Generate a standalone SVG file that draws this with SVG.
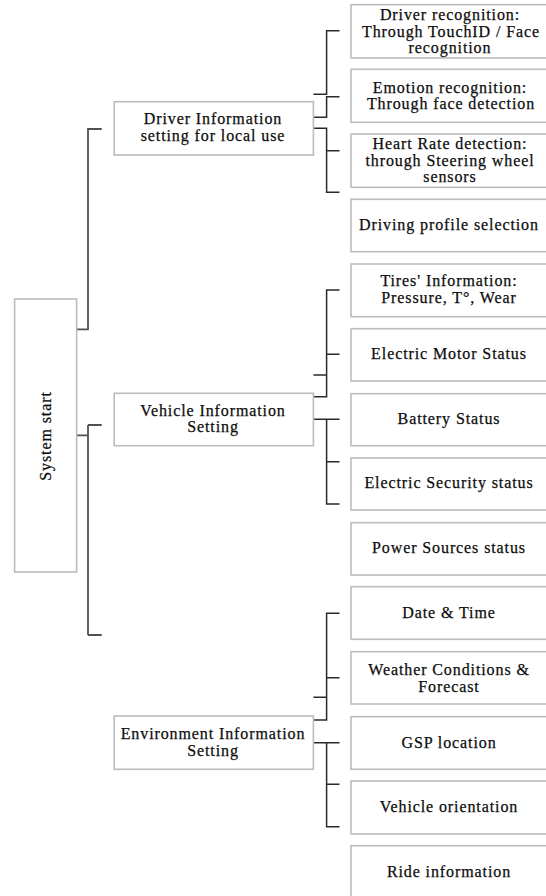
<svg xmlns="http://www.w3.org/2000/svg" width="546" height="896" viewBox="0 0 546 896">
  <style>
    .box { fill: #ffffff; stroke: #bcbcbc; stroke-width: 1.6; }
    .lbl { font-family: "Liberation Serif", "Times New Roman", serif; font-size: 16px; letter-spacing: 0.9px; fill: #0d0d0d; stroke: #0d0d0d; stroke-width: 0.25; text-anchor: middle; }
    .trunk { fill: none; stroke: #505050; stroke-width: 1.8; }
    .br { fill: none; stroke: #2a2a2a; stroke-width: 1.5; }
  </style>
  <rect width="546" height="896" fill="#ffffff"/>

  <!-- connectors -->
  <g id="connectors">
    <!-- System start to the three setting groups -->
    <path class="trunk" d="M76.6,329.3 H88 V129 H101.7"/>
    <path class="trunk" d="M76.6,435.3 H88 M88,425 V635 M88,425 H101.7 M88,635 H101.7"/>
    <!-- driver information brackets -->
    <path class="br" d="M339.5,30.7 H326.6 V94.3 H313.4"/>
    <path class="br" d="M339.5,96.7 H326.6 V117.3 H313.4"/>
    <path class="br" d="M313.4,128.3 H326.6 V192.3 H339.5 M326.6,150.7 H339.5"/>
    <!-- vehicle information brackets -->
    <path class="br" d="M339.5,290 H326.6 V396.7 H313.4 M326.6,354.3 H339.5 M313.4,375 H326.6"/>
    <path class="br" d="M313.4,419.3 H339.5 M326.6,419.3 V504 H339.5 M326.6,461.7 H339.5"/>
    <!-- environment information brackets -->
    <path class="br" d="M339.5,613.3 H326.6 V720 H313.4 M326.6,677.7 H339.5 M313.4,697.3 H326.6"/>
    <path class="br" d="M313.4,742.7 H339.5 M326.6,742.7 V826.7 H339.5 M326.6,784.3 H339.5"/>
  </g>

  <!-- root -->
  <g id="system-start">
    <rect class="box" x="14.6" y="299" width="62" height="273"/>
    <text class="lbl" transform="translate(50.5,436) rotate(-90)">System start</text>
  </g>

  <!-- second level -->
  <g id="driver-info">
    <rect class="box" x="114.2" y="101.7" width="199.2" height="53.3"/>
    <text class="lbl" x="213" y="124.3">Driver Information</text>
    <text class="lbl" x="213" y="141">setting for local use</text>
  </g>
  <g id="vehicle-info">
    <rect class="box" x="114.2" y="393.3" width="199.2" height="52.4"/>
    <text class="lbl" x="213" y="415.7">Vehicle Information</text>
    <text class="lbl" x="213" y="431.7">Setting</text>
  </g>
  <g id="environment-info">
    <rect class="box" x="114.2" y="716" width="199.2" height="53.3"/>
    <text class="lbl" x="213" y="739.3">Environment Information</text>
    <text class="lbl" x="213" y="756">Setting</text>
  </g>

  <!-- leaves: driver -->
  <g id="driver-recognition">
    <rect class="box" x="351" y="4.7" width="197" height="53.3"/>
    <text class="lbl" x="450" y="20">Driver recognition:</text>
    <text class="lbl" x="451" y="36.5">Through TouchID / Face</text>
    <text class="lbl" x="450" y="53">recognition</text>
  </g>
  <g id="emotion-recognition">
    <rect class="box" x="351" y="69.3" width="197" height="53"/>
    <text class="lbl" x="450" y="92.7">Emotion recognition:</text>
    <text class="lbl" x="451" y="109.3">Through face detection</text>
  </g>
  <g id="heart-rate">
    <rect class="box" x="351" y="134" width="197" height="53.3"/>
    <text class="lbl" x="450" y="149">Heart Rate detection:</text>
    <text class="lbl" x="450" y="165.7">through Steering wheel</text>
    <text class="lbl" x="450" y="181.7">sensors</text>
  </g>
  <g id="driving-profile">
    <rect class="box" x="351" y="199.3" width="197" height="52.4"/>
    <text class="lbl" x="449" y="230">Driving profile selection</text>
  </g>

  <!-- leaves: vehicle -->
  <g id="tires">
    <rect class="box" x="351" y="264" width="197" height="52.7"/>
    <text class="lbl" x="449" y="286">Tires' Information:</text>
    <text class="lbl" x="449" y="302.7">Pressure, T°, Wear</text>
  </g>
  <g id="motor-status">
    <rect class="box" x="351" y="328.7" width="197" height="52.3"/>
    <text class="lbl" x="449" y="359.3">Electric Motor Status</text>
  </g>
  <g id="battery-status">
    <rect class="box" x="351" y="393.7" width="197" height="52"/>
    <text class="lbl" x="449" y="424">Battery Status</text>
  </g>
  <g id="security-status">
    <rect class="box" x="351" y="458" width="197" height="52"/>
    <text class="lbl" x="449" y="488.3">Electric Security status</text>
  </g>
  <g id="power-sources">
    <rect class="box" x="351" y="522.7" width="197" height="52.3"/>
    <text class="lbl" x="449" y="552.7">Power Sources status</text>
  </g>

  <!-- leaves: environment -->
  <g id="date-time">
    <rect class="box" x="351" y="586.7" width="197" height="52.6"/>
    <text class="lbl" x="449" y="617.7">Date &amp; Time</text>
  </g>
  <g id="weather">
    <rect class="box" x="351" y="651.7" width="197" height="52.3"/>
    <text class="lbl" x="449" y="675">Weather Conditions &amp;</text>
    <text class="lbl" x="449" y="691.7">Forecast</text>
  </g>
  <g id="gsp-location">
    <rect class="box" x="351" y="716.7" width="197" height="52.6"/>
    <text class="lbl" x="449" y="748.3">GSP location</text>
  </g>
  <g id="vehicle-orientation">
    <rect class="box" x="351" y="781" width="197" height="53"/>
    <text class="lbl" x="449" y="812.3">Vehicle orientation</text>
  </g>
  <g id="ride-information">
    <rect class="box" x="351" y="845.7" width="197" height="60"/>
    <text class="lbl" x="449" y="876.7">Ride information</text>
  </g>
</svg>
